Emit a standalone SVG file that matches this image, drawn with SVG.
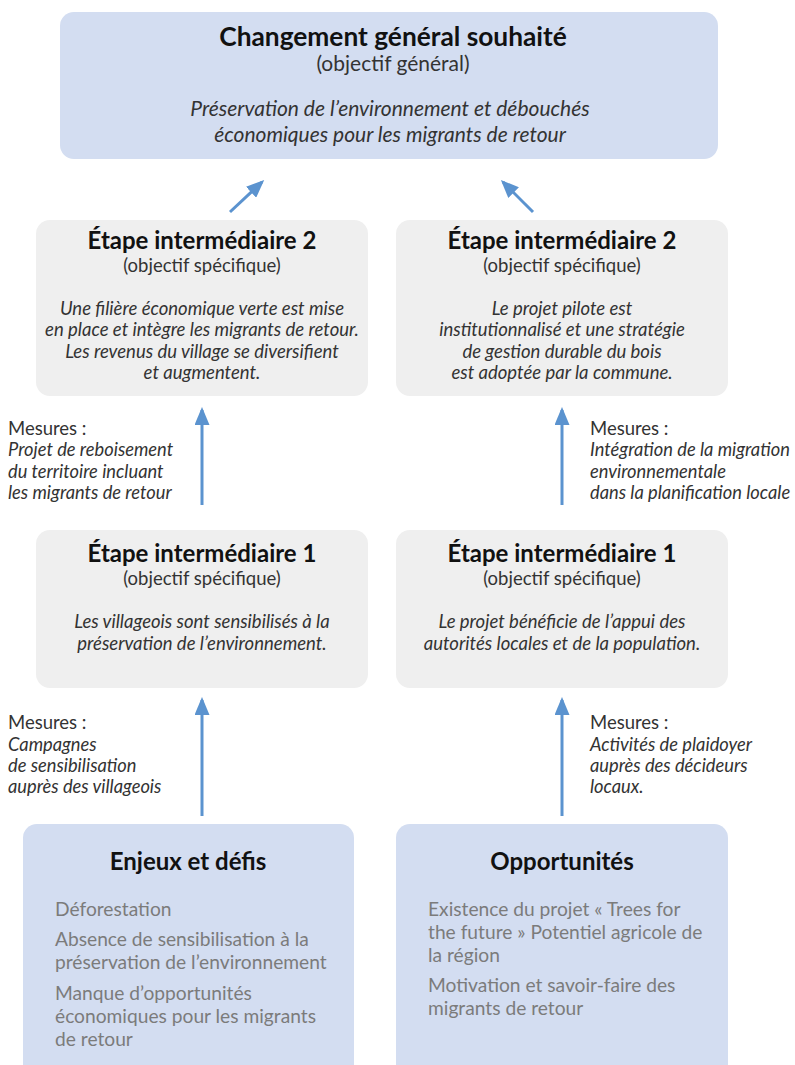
<svg xmlns="http://www.w3.org/2000/svg" width="795" height="1065" viewBox="0 0 795 1065">
<defs>
<style>
text{font-family:Lato,"Liberation Sans",sans-serif;}
.blue{fill:#d3ddf1;}
.grey{fill:#efefef;}
.t{font-weight:bold;font-size:24px;fill:#111;text-anchor:middle;}
.tt{font-size:26.3px;}
.s{font-size:18.5px;fill:#333;text-anchor:middle;}
.i{font-size:18.5px;font-style:italic;fill:#333;text-anchor:middle;}
.big{font-size:21px;}
.m{font-size:18.5px;fill:#333;}
.mi{font-size:18.3px;font-style:italic;fill:#333;}
.g{font-size:19.2px;fill:#7b7b7b;}
.c{stroke:#5b93cf;stroke-width:3;fill:none;}
</style>
<marker id="ah" viewBox="0 0 12 10" refX="10" refY="5" markerWidth="6" markerHeight="5" orient="auto" markerUnits="strokeWidth">
<path d="M0,0 L12,5 L0,10 z" fill="#5b93cf"/>
</marker>
</defs>
<rect width="795" height="1065" fill="#fff"/>
<g id="goal">
<rect class="blue" x="60" y="12" width="658" height="147" rx="14"/>
<text class="t tt" x="393" y="46">Changement général souhaité</text>
<text class="s big" x="393" y="71">(objectif général)</text>
<text class="i big" x="390" y="116">Préservation de l’environnement et débouchés</text>
<text class="i big" x="390" y="142">économiques pour les migrants de retour</text>
</g>
<g id="step2-left">
<rect class="grey" x="36" y="220" width="332" height="176" rx="14"/>
<text class="t" x="202" y="249">Étape intermédiaire 2</text>
<text class="s" x="202" y="272">(objectif spécifique)</text>
<text class="i" x="202" y="315">Une filière économique verte est mise</text>
<text class="i" x="202" y="336">en place et intègre les migrants de retour.</text>
<text class="i" x="202" y="358">Les revenus du village se diversifient</text>
<text class="i" x="202" y="379">et augmentent.</text>
</g>
<g id="step2-right">
<rect class="grey" x="396" y="220" width="332" height="176" rx="14"/>
<text class="t" x="562" y="249">Étape intermédiaire 2</text>
<text class="s" x="562" y="272">(objectif spécifique)</text>
<text class="i" x="562" y="315">Le projet pilote est</text>
<text class="i" x="562" y="336">institutionnalisé et une stratégie</text>
<text class="i" x="562" y="358">de gestion durable du bois</text>
<text class="i" x="562" y="379">est adoptée par la commune.</text>
</g>
<g id="step1-left">
<rect class="grey" x="36" y="530" width="332" height="158" rx="14"/>
<text class="t" x="202" y="562">Étape intermédiaire 1</text>
<text class="s" x="202" y="585">(objectif spécifique)</text>
<text class="i" x="202" y="628">Les villageois sont sensibilisés à la</text>
<text class="i" x="202" y="650">préservation de l’environnement.</text>
</g>
<g id="step1-right">
<rect class="grey" x="396" y="530" width="332" height="158" rx="14"/>
<text class="t" x="562" y="562">Étape intermédiaire 1</text>
<text class="s" x="562" y="585">(objectif spécifique)</text>
<text class="i" x="562" y="628">Le projet bénéficie de l’appui des</text>
<text class="i" x="562" y="650">autorités locales et de la population.</text>
</g>
<g id="challenges">
<rect class="blue" x="23" y="824" width="331" height="260" rx="14"/>
<text class="t" x="188" y="870">Enjeux et défis</text>
<text class="g" x="55" y="916">Déforestation</text>
<text class="g" x="55" y="946">Absence de sensibilisation à la</text>
<text class="g" x="55" y="969">préservation de l’environnement</text>
<text class="g" x="55" y="1000">Manque d’opportunités</text>
<text class="g" x="55" y="1023">économiques pour les migrants</text>
<text class="g" x="55" y="1046">de retour</text>
</g>
<g id="opportunities">
<rect class="blue" x="396" y="824" width="332" height="260" rx="14"/>
<text class="t" x="562" y="870">Opportunités</text>
<text class="g" x="428" y="916">Existence du projet « Trees for</text>
<text class="g" x="428" y="939">the future » Potentiel agricole de</text>
<text class="g" x="428" y="962">la région</text>
<text class="g" x="428" y="992">Motivation et savoir-faire des</text>
<text class="g" x="428" y="1015">migrants de retour</text>
</g>
<g id="measures">
<text class="m" x="8" y="435">Mesures :</text>
<text class="mi" x="8" y="456">Projet de reboisement</text>
<text class="mi" x="8" y="478">du territoire incluant</text>
<text class="mi" x="8" y="499">les migrants de retour</text>
<text class="m" x="590" y="435">Mesures :</text>
<text class="mi" x="590" y="456">Intégration de la migration</text>
<text class="mi" x="590" y="478">environnementale</text>
<text class="mi" x="590" y="499">dans la planification locale</text>
<text class="m" x="8" y="729">Mesures :</text>
<text class="mi" x="8" y="751">Campagnes</text>
<text class="mi" x="8" y="772">de sensibilisation</text>
<text class="mi" x="8" y="793">auprès des villageois</text>
<text class="m" x="590" y="729">Mesures :</text>
<text class="mi" x="590" y="751">Activités de plaidoyer</text>
<text class="mi" x="590" y="772">auprès des décideurs</text>
<text class="mi" x="590" y="793">locaux.</text>
</g>
<g id="connectors">
<line class="c" x1="230" y1="212" x2="262" y2="182" marker-end="url(#ah)"/>
<line class="c" x1="533" y1="212" x2="503" y2="182" marker-end="url(#ah)"/>
<line class="c" x1="202" y1="505" x2="202" y2="410" marker-end="url(#ah)"/>
<line class="c" x1="562" y1="505" x2="562" y2="410" marker-end="url(#ah)"/>
<line class="c" x1="202" y1="816" x2="202" y2="700" marker-end="url(#ah)"/>
<line class="c" x1="562" y1="816" x2="562" y2="700" marker-end="url(#ah)"/>
</g>
</svg>
